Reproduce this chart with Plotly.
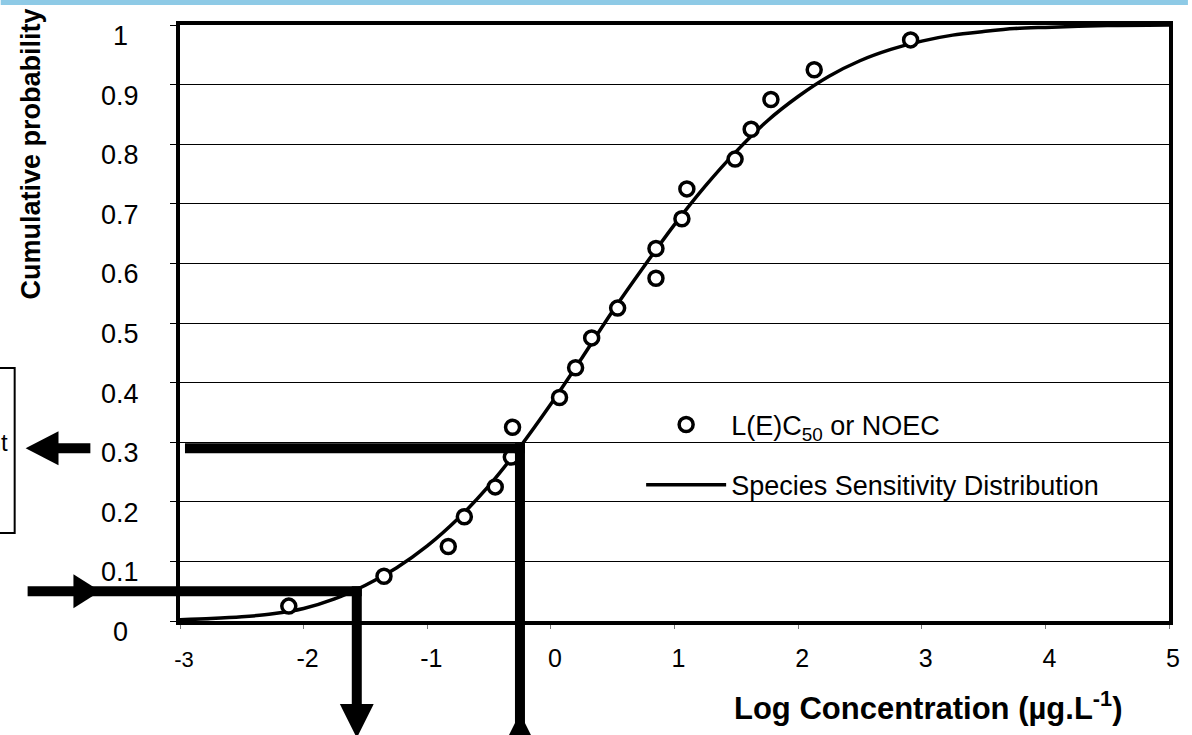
import plotly.graph_objects as go

# ---------------- data ----------------
LOG_CONC = [-2.12, -1.35, -0.83, -0.70, -0.45, -0.32, -0.31, 0.07, 0.20, 0.33,
            0.54, 0.85, 0.85, 1.06, 1.10, 1.49, 1.62, 1.78, 2.13, 2.91]
CUM_PROB = [0.025, 0.075, 0.125, 0.175, 0.225, 0.275, 0.325, 0.375, 0.425, 0.475,
            0.525, 0.575, 0.625, 0.675, 0.725, 0.775, 0.825, 0.875, 0.925, 0.975]

SSD_X = [-3, -2.75, -2.5, -2.25, -2, -1.75, -1.5, -1.25, -1, -0.75, -0.5, -0.25,
         0, 0.25, 0.5, 0.75, 1, 1.25, 1.5, 1.75, 2, 2.25, 2.5, 2.75, 3, 3.25,
         3.5, 3.75, 4, 4.5, 5]
SSD_P = [0.002, 0.004, 0.007, 0.012, 0.021, 0.037, 0.060, 0.089, 0.126, 0.172,
         0.227, 0.292, 0.364, 0.441, 0.520, 0.594, 0.665, 0.730, 0.788, 0.839,
         0.880, 0.914, 0.940, 0.959, 0.973, 0.983, 0.989, 0.994, 0.996, 0.999, 1.0]

ARROW_P = [0.05, 0.29]       # probability levels of the two read-offs
ARROW_LC = [-1.57, -0.25]    # matching log concentrations on the SSD

X_TICKS = [-3, -2, -1, 0, 1, 2, 3, 4, 5]
X_TICK_LABELS = ["-3", "-2", "-1", "0", "1", "2", "3", "4", "5"]
Y_TICKS = [0, 0.1, 0.2, 0.3, 0.4, 0.5, 0.6, 0.7, 0.8, 0.9, 1]
Y_TICK_LABELS = ["0", "0.1", "0.2", "0.3", "0.4", "0.5", "0.6", "0.7", "0.8", "0.9", "1"]

NAME_POINTS = "L(E)C<sub>50</sub> or NOEC"
NAME_CURVE = "Species Sensitivity Distribution"
X_TITLE = "<b>Log Concentration (µg.L<sup>-1</sup>)</b>"
Y_TITLE = "<b>Cumulative probability</b>"

# ---------------- layout geometry ----------------
W, H = 1192, 735
ML, MR, MT, MB = 180, 19, 25, 114
PW, PH = W - ML - MR, H - MT - MB
XMIN, XMAX = -3, 5
FONT = "Liberation Sans, Arial, sans-serif"


def px(xp):  # screen pixel -> paper x
    return (xp - ML) / PW


def py(yp):  # screen pixel -> paper y
    return (MT + PH - yp) / PH


def dx(v):  # data x -> paper x
    return (v - XMIN) / (XMAX - XMIN)


fig = go.Figure()

fig.add_trace(go.Scatter(
    x=SSD_X, y=SSD_P, mode="lines", name=NAME_CURVE, legendrank=2, legendgroup="b",
    line=dict(color="black", width=3.5, shape="spline", smoothing=0.8),
    cliponaxis=True,
))
fig.add_trace(go.Scatter(
    x=LOG_CONC, y=CUM_PROB, mode="markers", name=NAME_POINTS, legendrank=1,
    legendgroup="a",
    marker=dict(symbol="circle", size=14, color="white",
                line=dict(color="black", width=3.5)),
    cliponaxis=False,
))

shapes = []
# blue band at top
shapes.append(dict(type="rect", xref="paper", yref="paper", x0=px(0), x1=px(W),
                   y0=py(5), y1=py(0), fillcolor="#8ecae6", line=dict(width=0),
                   layer="above"))
# white gap in gridlines behind legend
shapes.append(dict(type="rect", xref="paper", yref="paper", x0=px(650), x1=px(1116),
                   y0=py(518), y1=py(372), fillcolor="white", line=dict(width=0),
                   layer="between"))

LW = 10
hx = LW / 2 / PW
hy = LW / 2 / PH
# arrow 1: from left into the curve at p=0.05, then down to the x axis
p1, c1 = ARROW_P[0], ARROW_LC[0]
shapes.append(dict(type="line", xref="paper", yref="paper", x0=px(27), x1=dx(c1) + hx,
                   y0=p1, y1=p1, line=dict(color="black", width=LW)))
shapes.append(dict(type="line", xref="paper", yref="paper", x0=dx(c1), x1=dx(c1),
                   y0=p1 + hy, y1=py(706), line=dict(color="black", width=LW)))
shapes.append(dict(type="path", xref="paper", yref="paper",
                   path=f"M {px(73)},{p1 + 17 / PH} L {px(100)},{p1} L {px(73)},{p1 - 17 / PH} Z",
                   fillcolor="black", line=dict(width=0)))
c1x = dx(c1)
shapes.append(dict(type="path", xref="paper", yref="paper",
                   path=f"M {c1x - 17 / PW},{py(704)} L {c1x + 17 / PW},{py(704)} L {c1x},{py(738)} Z",
                   fillcolor="black", line=dict(width=0)))

# arrow 2: from the x axis up to the curve at p=0.29, then left out of the chart
p2, c2 = ARROW_P[1], ARROW_LC[1]
shapes.append(dict(type="line", xref="paper", yref="paper", x0=px(185), x1=dx(c2) + hx,
                   y0=p2, y1=p2, line=dict(color="black", width=LW)))
shapes.append(dict(type="line", xref="paper", yref="paper", x0=dx(c2), x1=dx(c2),
                   y0=p2 + hy, y1=py(740), line=dict(color="black", width=LW)))
c2x = dx(c2)
shapes.append(dict(type="path", xref="paper", yref="paper",
                   path=f"M {c2x - 17 / PW},{py(747)} L {c2x + 17 / PW},{py(747)} L {c2x},{py(713)} Z",
                   fillcolor="black", line=dict(width=0)))
shapes.append(dict(type="line", xref="paper", yref="paper", x0=px(57), x1=px(90),
                   y0=p2, y1=p2, line=dict(color="black", width=LW)))
shapes.append(dict(type="path", xref="paper", yref="paper",
                   path=f"M {px(58)},{p2 + 17 / PH} L {px(25)},{p2} L {px(58)},{p2 - 17 / PH} Z",
                   fillcolor="black", line=dict(width=0)))
# box at left edge (cut off)
shapes.append(dict(type="rect", xref="paper", yref="paper", x0=px(-20), x1=px(14),
                   y0=py(533), y1=py(368), line=dict(color="black", width=2)))

annotations = []
for v, lab in zip(Y_TICKS, Y_TICK_LABELS):
    annotations.append(dict(x=px(120), xref="paper", y=v, yref="y", text=lab,
                            showarrow=False, xanchor="center", yanchor="middle",
                            yshift=-11, font=dict(family=FONT, size=27, color="black")))
annotations.append(dict(x=px(30), xref="paper", y=py(154), yref="paper", text=Y_TITLE,
                        textangle=-90, showarrow=False, xanchor="center", yanchor="middle",
                        font=dict(family=FONT, size=27, color="black")))
annotations.append(dict(x=px(931), xref="paper", y=py(706), yref="paper", text=X_TITLE,
                        showarrow=False, xanchor="center", yanchor="middle",
                        font=dict(family=FONT, size=31, color="black")))
annotations.append(dict(x=px(9), xref="paper", y=py(442), yref="paper", text="Percent",
                        showarrow=False, xanchor="right", yanchor="middle",
                        font=dict(family=FONT, size=24, color="black")))

fig.update_layout(
    width=W, height=H, autosize=False,
    margin=dict(l=ML, r=MR, t=MT, b=MB, pad=0),
    paper_bgcolor="white", plot_bgcolor="white",
    font=dict(family=FONT, color="black"),
    shapes=shapes, annotations=annotations,
    showlegend=True,
    legend=dict(x=px(643), y=py(455), xanchor="left", yanchor="middle",
                bgcolor="rgba(0,0,0,0)", borderwidth=0, traceorder="grouped",
                itemwidth=80, tracegroupgap=22,
                font=dict(family=FONT, size=27, color="black")),
    xaxis=dict(range=[XMIN, XMAX], tickvals=X_TICKS,
               ticktext=["<span style='font-size:22px'>-3</span>"] + X_TICK_LABELS[1:],
               showgrid=False, zeroline=False,
               ticks="outside", ticklen=4, tickwidth=1, tickcolor="#777",
               ticklabelstandoff=8, ticklabelshift=4,
               tickfont=dict(family=FONT, size=25, color="black"),
               showline=True, linecolor="black", linewidth=4, mirror=True),
    yaxis=dict(range=[0, 1], tickvals=Y_TICKS, showticklabels=False,
               showgrid=True, gridcolor="black", gridwidth=1, zeroline=False,
               ticks="outside", ticklen=6, tickwidth=1, tickcolor="black",
               showline=True, linecolor="black", linewidth=4, mirror=True),
)

fig.write_html("out.html", config={"displayModeBar": False},
               post_script="document.body.style.margin='0';document.body.style.overflow='hidden';")
